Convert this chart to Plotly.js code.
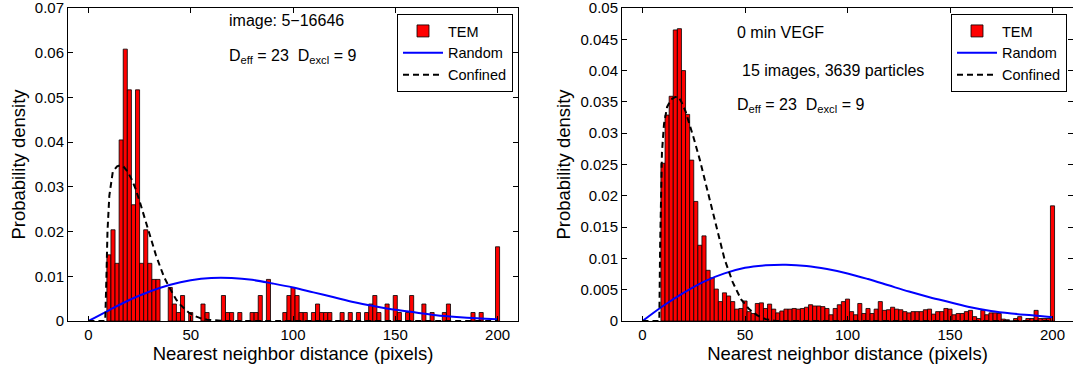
<!DOCTYPE html>
<html>
<head>
<meta charset="utf-8">
<script src="https://cdn.plot.ly/plotly-3.0.1.min.js"></script>
<style>
  html, body { margin: 0; padding: 0; background: #fff; }
  #chart { width: 1073px; height: 370px; }
</style>
</head>
<body>
<div id="chart"></div>
<script>
// ---------- Left panel (image 5-16646) ----------
const leftBinCenters = [10,12,14,16,18,20,22,24,26,28,30,32,34,40,42,44,46,50,56,58,66,68,70,74,80,82,84,88,96,98,100,102,104,106,110,112,114,116,118,124,128,132,136,138,140,142,146,150,152,156,158,164,168,174,176,188,192,200];
const leftDensity = [0.0148,0.0204,0.0129,0.0405,0.0608,0.0517,0.0260,0.0517,0.0129,0.0204,0.0129,0.0093,0.0093,0.0075,0.0038,0.0019,0.0057,0.0019,0.0038,0.0019,0.0057,0.0019,0.0019,0.0019,0.0019,0.0019,0.0057,0.0093,0.0019,0.0057,0.0075,0.0057,0.0019,0.0019,0.0019,0.0038,0.0019,0.0019,0.0019,0.0019,0.0019,0.0019,0.0019,0.0038,0.0057,0.0019,0.0038,0.0057,0.0019,0.0019,0.0057,0.0038,0.0019,0.0019,0.0038,0.0019,0.0019,0.0166];

const leftRandomX = [0,10,20,30,40,50,60,70,80,90,100,110,120,130,140,150,160,170,180,190,200];
const leftRandomY = [0,0.0024,0.0047,0.0066,0.0081,0.0091,0.0096,0.0096,0.0092,0.0084,0.0075,0.0064,0.0053,0.0042,0.0033,0.0025,0.0019,0.0013,0.0009,0.0006,0.0004];

const leftConfinedX = [0,8.2,8.8,9.3,10.2,11.9,14,15.5,17,19,21,23,25,27,29,31,33,35,37,39,41,43,45,47,49,52,55,58,62,66,100,200];
const leftConfinedY = [0,0,0.010,0.020,0.028,0.0334,0.0346,0.0348,0.0346,0.0335,0.0318,0.0296,0.0268,0.0238,0.0205,0.0175,0.0147,0.0122,0.0098,0.0080,0.0062,0.0047,0.0036,0.0027,0.0019,0.0011,0.0006,0.0003,0.0001,0,0,0];

// ---------- Right panel (0 min VEGF) ----------
const rightBinCenters = [10,12,14,16,18,20,22,24,26,28,30,32,34,36,38,40,42,44,46,48,50,52,54,56,58,60,62,64,66,68,70,72,74,76,78,80,82,84,86,88,90,92,94,96,98,100,102,104,106,108,110,112,114,116,118,120,122,124,126,128,130,132,134,136,138,140,142,144,146,148,150,152,154,156,158,160,162,164,166,168,170,172,174,176,178,180,182,184,186,188,190,192,194,196,198,200];
const rightDensity = [0.0252,0.0329,0.0359,0.0465,0.0467,0.0400,0.0330,0.0257,0.0191,0.0121,0.0136,0.0081,0.0069,0.0051,0.0031,0.0045,0.0040,0.0031,0.0019,0.0020,0.0032,0.0015,0.0012,0.0028,0.0029,0.0020,0.0027,0.0019,0.0013,0.0016,0.0019,0.0019,0.0020,0.0019,0.0020,0.0022,0.0026,0.0024,0.0024,0.0023,0.0020,0.0010,0.0020,0.0026,0.0031,0.0035,0.0015,0.0010,0.0028,0.0012,0.0020,0.0012,0.0019,0.0031,0.0017,0.0018,0.0022,0.0019,0.0018,0.0015,0.0013,0.0015,0.0015,0.0015,0.0018,0.0019,0.0011,0.0015,0.0015,0.0020,0.0019,0.0010,0.0012,0.0012,0.0015,0.0017,0.0007,0.0004,0.0017,0.0010,0.0013,0.0013,0.0012,0.0003,0.0002,0,0.0004,0.0007,0,0.0004,0.0004,0.0017,0.0004,0.0004,0.0004,0.0184];

const rightRandomX = [0,10,20,30,40,50,60,70,80,90,100,110,120,130,140,150,160,170,180,190,200];
const rightRandomY = [0,0.0024,0.0045,0.0063,0.0076,0.0085,0.0089,0.0090,0.0088,0.0083,0.0076,0.0067,0.0057,0.0047,0.0038,0.0030,0.0022,0.0016,0.0012,0.0009,0.0006];

const rightConfinedX = [0,8.2,8.6,9.0,9.5,10.5,12,14,16,17.5,19,21,23,25,28,32,36,40,44,48,52,56,60,65,100,200];
const rightConfinedY = [0,0,0.012,0.022,0.027,0.0315,0.0342,0.0354,0.0358,0.0358,0.0350,0.0335,0.0315,0.0292,0.0257,0.0205,0.0151,0.0099,0.0062,0.0035,0.0019,0.0009,0.0003,0,0,0];

// ---------- Text / ticks ----------
const xTitle = 'Nearest neighbor distance (pixels)';
const yTitle = 'Probability density';
const seriesNames = ['TEM', 'Random', 'Confined'];
const xTickVals = [0, 50, 100, 150, 200];
const leftYTickVals = [0, 0.01, 0.02, 0.03, 0.04, 0.05, 0.06, 0.07];
const leftYTickText = ['0', '0.01', '0.02', '0.03', '0.04', '0.05', '0.06', '0.07'];
const rightYTickVals = [0, 0.005, 0.01, 0.015, 0.02, 0.025, 0.03, 0.035, 0.04, 0.045, 0.05];
const rightYTickText = ['0', '0.005', '0.01', '0.015', '0.02', '0.025', '0.03', '0.035', '0.04', '0.045', '0.05'];

const W = 1073, H = 370;
const FONT = 'Liberation Sans, Arial, Helvetica, sans-serif';
const px = v => v / W;
const py = v => 1 - v / H;

function barTrace(x, y, xa, ya, lg) {
  return {type: 'bar', x: x, y: y, width: 2, xaxis: xa, yaxis: ya, legend: lg,
    name: seriesNames[0], marker: {color: '#ff0000', line: {color: '#000', width: 0.8}}};
}
function randTrace(x, y, xa, ya, lg) {
  return {type: 'scatter', mode: 'lines', x: x, y: y, xaxis: xa, yaxis: ya, legend: lg,
    name: seriesNames[1], line: {color: '#0000ff', width: 2, shape: 'spline'}};
}
function confTrace(x, y, xa, ya, lg) {
  return {type: 'scatter', mode: 'lines', x: x, y: y, xaxis: xa, yaxis: ya, legend: lg,
    name: seriesNames[2], line: {color: '#000', width: 2, dash: '6px,4px'}};
}

const data = [
  barTrace(leftBinCenters, leftDensity, 'x', 'y', 'legend'),
  randTrace(leftRandomX, leftRandomY, 'x', 'y', 'legend'),
  confTrace(leftConfinedX, leftConfinedY, 'x', 'y', 'legend'),
  barTrace(rightBinCenters, rightDensity, 'x2', 'y2', 'legend2'),
  randTrace(rightRandomX, rightRandomY, 'x2', 'y2', 'legend2'),
  confTrace(rightConfinedX, rightConfinedY, 'x2', 'y2', 'legend2')
];

function xAxis(domain, anchor) {
  return {domain: domain, anchor: anchor, range: [-10, 210], tickvals: xTickVals,
    ticks: 'inside', ticklen: 5, tickcolor: '#000', tickwidth: 1,
    showline: true, mirror: 'ticks', linecolor: '#000', linewidth: 1,
    showgrid: false, zeroline: false, automargin: false, ticklabeloverflow: 'allow',
    tickfont: {family: FONT, size: 15, color: '#000'},
    title: {text: xTitle, font: {family: FONT, size: 18.5, color: '#000'}, standoff: 3}};
}
function yAxis(domain, anchor, top, tickvals, ticktext) {
  return {domain: domain, anchor: anchor, range: [0, top],
    tickmode: 'array', tickvals: tickvals, ticktext: ticktext,
    ticks: 'inside', ticklen: 5, tickcolor: '#000', tickwidth: 1,
    showline: true, mirror: 'ticks', linecolor: '#000', linewidth: 1,
    showgrid: false, zeroline: false, automargin: false, ticklabeloverflow: 'allow',
    tickfont: {family: FONT, size: 15, color: '#000'},
    title: {text: yTitle, font: {family: FONT, size: 18.5, color: '#000'}, standoff: 4}};
}
function legendBox(xRight) {
  return {x: px(xRight), xanchor: 'right', y: py(14), yanchor: 'top',
    bgcolor: '#fff', bordercolor: '#000', borderwidth: 1,
    font: {family: FONT, size: 14.5, color: '#000'}, tracegroupgap: 0,
    itemwidth: 40, traceorder: 'normal'};
}
function note(text, x, y) {
  return {text: text, xref: 'paper', yref: 'paper', x: px(x), y: py(y),
    xanchor: 'left', yanchor: 'middle', showarrow: false,
    font: {family: FONT, size: 16, color: '#000'}};
}

const yDom = [49 / H, 362 / H];
const dText = 'D<sub>eff</sub> = 23\u00a0\u00a0D<sub>excl</sub> = 9';

const layout = {
  width: W, height: H,
  margin: {l: 0, r: 0, t: 0, b: 0},
  paper_bgcolor: '#fff', plot_bgcolor: '#fff',
  font: {family: FONT, color: '#000'},
  xaxis: xAxis([68 / W, 518 / W], 'y'),
  yaxis: yAxis(yDom, 'x', 0.07, leftYTickVals, leftYTickText),
  xaxis2: xAxis([622 / W, 1], 'y2'),
  yaxis2: yAxis(yDom, 'x2', 0.05, rightYTickVals, rightYTickText),
  showlegend: true,
  legend: legendBox(513),
  legend2: legendBox(1067),
  annotations: [
    note('image: 5\u221216646', 227, 20),
    note(dText, 227, 56),
    note('0 min VEGF', 735, 33),
    note('15 images, 3639 particles', 740, 70),
    note(dText, 735, 106)
  ]
};

Plotly.newPlot('chart', data, layout, {staticPlot: true, displayModeBar: false});
</script>
</body>
</html>
